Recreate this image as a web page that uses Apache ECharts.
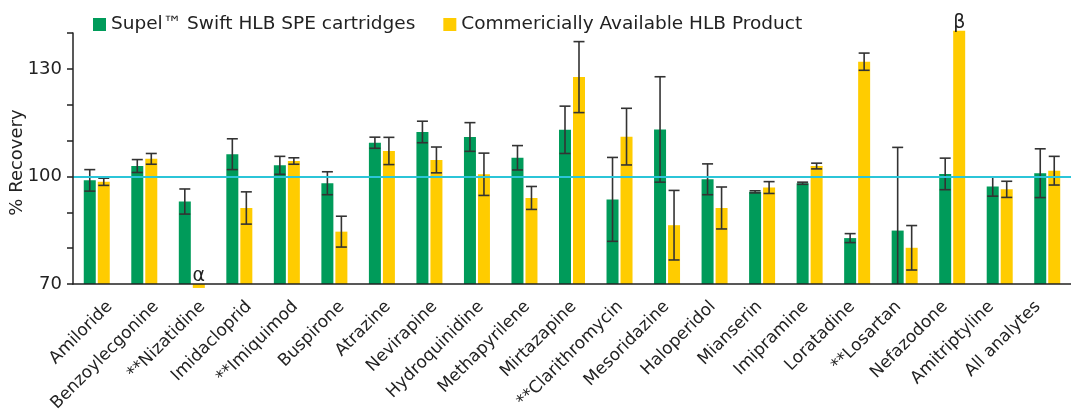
<!DOCTYPE html>
<html>
<head>
<meta charset="utf-8">
<script src="https://cdn.jsdelivr.net/npm/echarts@6/dist/echarts.min.js"></script>
<style>
  html, body { margin: 0; padding: 0; background: #fff; }
  #chart { width: 1071px; height: 419px; }
</style>
</head>
<body>
<div id="chart"></div>
<script>
// Analytes on the category axis
const categories = [
  'Amiloride', 'Benzoylecgonine', '**Nizatidine', 'Imidacloprid', '**Imiquimod',
  'Buspirone', 'Atrazine', 'Nevirapine', 'Hydroquinidine', 'Methapyrilene',
  'Mirtazapine', '**Clarithromycin', 'Mesoridazine', 'Haloperidol', 'Mianserin',
  'Imipramine', 'Loratadine', '**Losartan', 'Nefazodone', 'Amitriptyline', 'All analytes'
];

// Mean % recovery
const supelRecovery = [
  98.9, 102.9, 93.0, 106.2, 103.1, 98.1, 109.4, 112.4, 111.0, 105.2,
  113.0, 93.6, 113.1, 99.2, 95.7, 98.1, 82.8, 84.9, 100.7, 97.2, 100.9
];
const commercialRecovery = [
  98.5, 104.9, 68.9, 91.2, 104.3, 84.6, 107.1, 104.6, 100.6, 94.0,
  127.7, 111.1, 86.4, 91.2, 96.9, 102.9, 132.0, 80.1, 140.6, 96.4, 101.6
];

// Standard deviations (error bars)
const supelSD = [
  3.0, 1.8, 3.5, 4.3, 2.5, 3.2, 1.55, 3.0, 4.0, 3.4,
  6.6, 11.7, 14.7, 4.3, 0.3, 0.3, 1.25, 23.2, 4.4, 2.7, 6.8
];
const commercialSD = [
  1.0, 1.5, 0, 4.5, 0.9, 4.3, 3.8, 3.6, 5.9, 3.2,
  9.9, 7.9, 9.7, 5.85, 1.65, 0.8, 2.4, 6.2, 0, 2.25, 4.0
];

// Footnote marks above bars
const commercialNotes = [
  '', '', 'α', '', '', '', '', '', '', '',
  '', '', '', '', '', '', '', '', 'β', '', ''
];

const yTicksShown = [70, 100, 130];
const Y_MIN = 70;
const Y_MAX = 140;

const GREEN = '#009b5a';
const YELLOW = '#ffcc00';
const INK = '#222';
const WHISKER = '#333';
const BAR_W = 12;
const BAR_GAP = 2;
const FONT = 'DejaVu Sans';
const SERIES_NAMES = ['Supel™ Swift HLB SPE cartridges', 'Commericially Available HLB Product'];

// Bars measured from the bottom of the value axis; values under the axis
// minimum hang just below it, values past the maximum rise a little above it.
function barSeries(name, means, notes, color, side) {
  return {
    name: name,
    type: 'custom',
    z: 3,
    itemStyle: { color: color },
    data: means.map((m, i) => [i, m]),
    renderItem: function (params, api) {
      const idx = api.value(0);
      const v = api.value(1);
      const top = api.coord([idx, v]);
      const base = api.coord([idx, Y_MIN]);
      const cx = top[0] + side * (BAR_W + BAR_GAP) / 2;
      const y1 = Math.min(top[1], base[1]);
      const h = Math.abs(base[1] - top[1]);
      const children = [{
        type: 'rect',
        shape: { x: cx - BAR_W / 2, y: y1, width: BAR_W, height: h },
        style: { fill: color }
      }];
      const note = notes ? notes[idx] : '';
      if (note) {
        children.push({
          type: 'text',
          x: cx,
          y: y1 + 1.5,
          style: {
            text: note,
            fill: INK,
            font: '19px "' + FONT + '"',
            align: 'center',
            verticalAlign: 'bottom'
          }
        });
      }
      return { type: 'group', children: children };
    }
  };
}

// Mean ± SD whiskers; a whisker reaching past the axis floor stops there.
function errorSeries(means, sds, side) {
  return {
    type: 'custom',
    silent: true,
    z: 5,
    data: means.map((m, i) => [i, m, sds[i]]),
    renderItem: function (params, api) {
      const sd = api.value(2);
      if (!sd) return null;
      const idx = api.value(0);
      const mean = api.value(1);
      const c = api.coord([idx, mean]);
      const x = c[0] + side * (BAR_W + BAR_GAP) / 2;
      const yHi = api.coord([idx, mean + sd])[1];
      let yLo = api.coord([idx, mean - sd])[1];
      const bottom = params.coordSys.y + params.coordSys.height;
      const clipped = yLo > bottom;
      if (clipped) yLo = bottom;
      const half = 5.5;
      const style = { stroke: WHISKER, lineWidth: 1.6 };
      const children = [
        { type: 'line', shape: { x1: x, y1: yHi, x2: x, y2: yLo }, style: style },
        { type: 'line', shape: { x1: x - half, y1: yHi, x2: x + half, y2: yHi }, style: style }
      ];
      if (!clipped) {
        children.push({ type: 'line', shape: { x1: x - half, y1: yLo, x2: x + half, y2: yLo }, style: style });
      }
      return { type: 'group', children: children };
    }
  };
}

const chart = echarts.init(document.getElementById('chart'), null, { renderer: 'canvas' });

chart.setOption({
  animation: false,
  textStyle: { fontFamily: FONT },
  legend: {
    left: 88,
    top: 10,
    itemWidth: 13,
    itemHeight: 13,
    itemGap: 28,
    icon: 'rect',
    textStyle: { fontFamily: FONT, fontSize: 18.5, color: INK },
    data: SERIES_NAMES
  },
  grid: [
    // plotting area
    { left: 73, right: 0, top: 33, bottom: 135, containLabel: false, outerBoundsMode: 'none' },
    // slightly tighter band that carries the slanted analyte names
    { left: 86.5, right: 10, top: 33, bottom: 135, containLabel: false, outerBoundsMode: 'none' }
  ],
  xAxis: [
    {
      type: 'category',
      gridIndex: 0,
      data: categories,
      axisLine: { show: true, lineStyle: { color: INK, width: 1.5 } },
      axisTick: { show: false },
      axisLabel: { show: false },
      z: 10
    },
    {
      type: 'category',
      gridIndex: 1,
      data: categories,
      axisLine: { show: false },
      axisTick: { show: false },
      axisLabel: {
        rotate: 45,
        interval: 0,
        margin: 20,
        fontFamily: FONT,
        fontSize: 17,
        color: INK
      }
    }
  ],
  yAxis: [
    {
      type: 'value',
      gridIndex: 0,
      min: Y_MIN,
      max: Y_MAX,
      interval: 10,
      name: '% Recovery',
      nameLocation: 'middle',
      nameGap: 47,
      nameMoveOverlap: false,
      nameTextStyle: { fontFamily: FONT, fontSize: 18, color: INK, padding: [0, 8, 0, 0] },
      axisLine: { show: true, lineStyle: { color: INK, width: 1.5 } },
      axisTick: { show: true, length: 6, lineStyle: { color: INK, width: 1.5 } },
      splitLine: { show: false },
      axisLabel: {
        margin: 11,
        fontFamily: FONT,
        fontSize: 18,
        color: INK,
        formatter: v => (yTicksShown.indexOf(v) >= 0 ? String(v) : '')
      },
      z: 10
    },
    {
      type: 'value',
      gridIndex: 1,
      min: Y_MIN,
      max: Y_MAX,
      show: false
    }
  ],
  series: [
    Object.assign(barSeries(SERIES_NAMES[0], supelRecovery, null, GREEN, -1), {
      markLine: {
        silent: true,
        symbol: 'none',
        label: { show: false },
        lineStyle: { color: '#2bc5d8', width: 2, type: 'solid' },
        data: [{ yAxis: 100 }],
        z: 8
      }
    }),
    barSeries(SERIES_NAMES[1], commercialRecovery, commercialNotes, YELLOW, 1),
    errorSeries(supelRecovery, supelSD, -1),
    errorSeries(commercialRecovery, commercialSD, 1)
  ]
});
</script>
</body>
</html>
